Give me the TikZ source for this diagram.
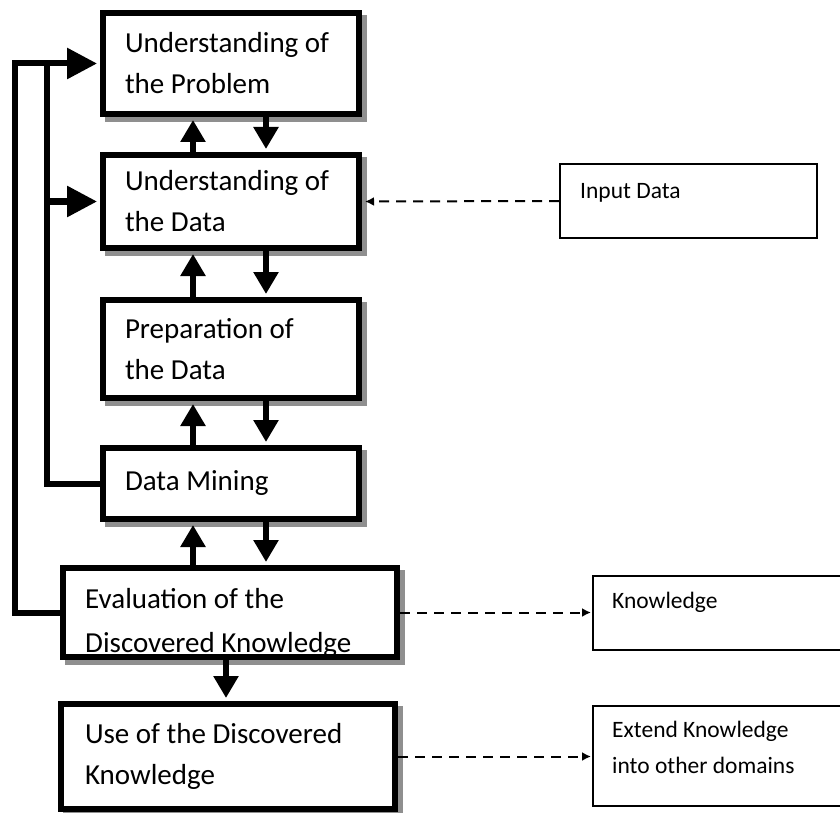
\documentclass[tikz,border=0pt]{standalone}
\usepackage{fontspec}
\setmainfont{Carlito}
\usetikzlibrary{arrows.meta}
\usetikzlibrary{shadows}

\definecolor{shadowgray}{HTML}{8F8F8F}

\begin{document}
\begin{tikzpicture}
	[x=1pt, y=-1pt,
	stage/.style = {draw, line width=6pt, fill=white, align=flush left, inner ysep=0pt,
		font=\fontsize{29}{41}\selectfont,
		drop shadow={shadow xshift=5pt, shadow yshift=-5pt, opacity=1, fill=shadowgray, draw=shadowgray}},
	narrow/.style = {text width=212pt, inner xsep=22pt},
	wide/.style = {text width=286pt, inner xsep=24pt},
	result/.style = {draw, line width=2pt, inner sep=0pt},
	note/.style = {inner sep=0pt, align=flush left, font=\fontsize{23.5}{36}\selectfont},
	flow/.style = {line width=6pt, shorten >=3pt, -{Triangle[length=22pt,width=24pt]}},
	back/.style = {line width=6pt, shorten >=3pt, -{Triangle[length=30pt,width=30pt]}},
	feed/.style = {line width=2pt, dash pattern=on 10pt off 7pt, -{Latex[length=9pt,width=9pt]}}
	]
	\path[use as bounding box, clip] (0,0) rectangle (840,813);

	\coordinate (up) at (193,0);
	\coordinate (dn) at (266,0);
	\coordinate (mid) at (226,0);
	\coordinate (lout) at (15,0);
	\coordinate (lin) at (47,0);

	% process steps
	\node[stage, narrow, minimum height=101pt] (prob) at (231,63.5) {Understanding of\\the Problem};
	\node[stage, narrow, minimum height=93pt] (data) at (231,201.5) {Understanding of\\the Data};
	\node[stage, narrow, minimum height=98pt] (prep) at (231,349) {Preparation of\\the Data};
	\node[stage, narrow, minimum height=71pt] (mine) at (231,483.5) {Data Mining};
	\node[stage, wide, minimum height=89pt] (eval) at (230,612.5) {};
	\node[stage, wide, minimum height=105pt] (use) at (228,756.5) {Use of the Discovered\\Knowledge};

	\begin{scope}
		\clip ([xshift=3pt, yshift=-3pt]eval.north west) rectangle ([xshift=-3pt, yshift=3pt]eval.south east);
		\node[inner sep=0pt, align=flush left, anchor=west, font=\fontsize{29}{44}\selectfont] (evaltext)
			at ([xshift=25pt, yshift=-10pt]eval.west) {Evaluation of the\\Discovered Knowledge};
	\end{scope}

	% side boxes
	\node[result, minimum width=257pt, minimum height=74pt] (inp) at (688.5,201) {};
	\node[result, minimum width=270pt, minimum height=74pt] (know) at (728,613) {};
	\node[result, minimum width=270pt, minimum height=100pt] (ext) at (728,756) {};
	\node[note, anchor=base west] (inptext) at ([xshift=21pt, yshift=-35pt]inp.north west) {Input Data};
	\node[note, anchor=base west] (knowtext) at ([xshift=20pt, yshift=-33pt]know.north west) {Knowledge};
	\node[note, anchor=north west] (exttext) at ([xshift=20pt, yshift=-16pt]ext.north west) {Extend Knowledge\\into other domains};

	\foreach \a/\b in {prob/data, data/prep, prep/mine, mine/eval} {
		\draw[flow] (\b.north -| up) -- (\a.south -| up);
		\draw[flow] (\a.south -| dn) -- (\b.north -| dn);
	}
	\draw[flow] (eval.south -| mid) -- (use.north -| mid);

	% feedback lines
	\draw[back] (eval.west) -| (lout |- prob.west) -- (prob.west);
	\draw[line width=6pt] (mine.west) -| (lin |- prob.west);
	\draw[back] (lin |- data.west) -- (data.west);

	\draw[feed, shorten >=3pt] (inp.west) -- (data.east);
	\draw[feed, shorten >=1pt] (eval.east) -- (eval.east -| know.west);
	\draw[feed, shorten >=1pt] (use.east) -- (use.east -| ext.west);
\end{tikzpicture}
\end{document}
